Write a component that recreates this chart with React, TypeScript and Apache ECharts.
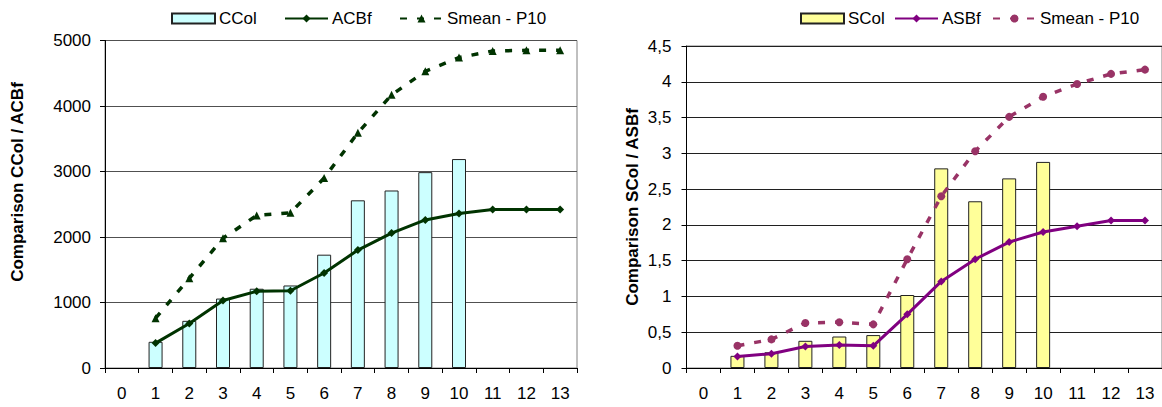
import React, { useEffect, useRef } from "react";
import * as echarts from "echarts";

const categories = ["0", "1", "2", "3", "4", "5", "6", "7", "8", "9", "10", "11", "12", "13"];

// Left chart
const ccol = [null, 400, 720, 1060, 1210, 1260, 1730, 2560, 2710, 2990, 3190, null, null, null];
const acbf = [null, 380, 680, 1030, 1170, 1180, 1450, 1800, 2060, 2260, 2360, 2420, 2420, 2420];
const smeanLeft = [null, 760, 1370, 1980, 2330, 2370, 2900, 3590, 4170, 4530, 4740, 4840, 4850, 4850];

// Right chart
const scol = [null, 0.17, 0.22, 0.38, 0.44, 0.46, 1.02, 2.79, 2.33, 2.65, 2.88, null, null, null];
const asbf = [null, 0.16, 0.2, 0.3, 0.32, 0.31, 0.75, 1.21, 1.52, 1.76, 1.9, 1.98, 2.06, 2.06];
const smeanRight = [null, 0.31, 0.4, 0.63, 0.64, 0.61, 1.52, 2.4, 3.03, 3.51, 3.79, 3.97, 4.11, 4.17];

const FONT = "'Liberation Sans', Arial, sans-serif";
const fix = (a: (number | null)[]) => a.map((v) => (v === null ? "-" : v));

export default function App() {
  const ref = useRef<HTMLDivElement>(null);
  useEffect(() => {
    if (!ref.current) return;
    const chart = echarts.init(ref.current, undefined, { renderer: "svg" });
    const axisLabel = { color: "#000", fontSize: 17, fontFamily: FONT };
    const legendBase = {
      top: 5,
      itemWidth: 43,
      itemHeight: 10,
      itemGap: 0,
      textStyle: { color: "#000", fontSize: 17, fontFamily: FONT, padding: [0, 0, 0, -1] },
      selectedMode: false as const,
    };
    const xAxisBase = (gi: number) => ({
      type: "category" as const,
      gridIndex: gi,
      data: categories,
      boundaryGap: true,
      axisLine: { lineStyle: { color: "#000", width: 1 } },
      axisTick: { show: true, length: 5, inside: false, lineStyle: { color: "#000" } },
      axisLabel: { ...axisLabel, margin: 17, interval: 0 },
      splitLine: { show: false },
    });
    chart.setOption({
      animation: false,
      backgroundColor: "#fff",
      grid: [
        { left: 105, top: 40.5, width: 472, height: 327.5, show: true, borderColor: "#808080", borderWidth: 1 },
        { left: 686.5, top: 46, width: 479, height: 322, show: true, borderColor: "#808080", borderWidth: 1 },
      ],
      legend: [
        { ...legendBase, left: 166, data: [{ name: "CCol", icon: "rect" }] },
        { ...legendBase, left: 279, data: ["ACBf"] },
        { ...legendBase, left: 394, data: ["Smean - P10 "] },
        { ...legendBase, left: 795, data: [{ name: "SCol", icon: "rect" }] },
        { ...legendBase, left: 889, data: ["ASBf"] },
        { ...legendBase, left: 987, data: ["Smean - P10"] },
      ],
      xAxis: [xAxisBase(0), xAxisBase(1)],
      yAxis: [
        {
          type: "value",
          gridIndex: 0,
          min: 0,
          max: 5000,
          interval: 1000,
          axisLine: { show: true, lineStyle: { color: "#000" } },
          axisTick: { show: true, length: 5, lineStyle: { color: "#000" } },
          axisLabel: { ...axisLabel, margin: 14, formatter: (v: number) => String(v) },
          splitLine: { show: true, lineStyle: { color: "#505050", width: 1 } },
        },
        {
          type: "value",
          gridIndex: 1,
          min: 0,
          max: 4.5,
          interval: 0.5,
          axisLine: { show: true, lineStyle: { color: "#000" } },
          axisTick: { show: true, length: 5, lineStyle: { color: "#000" } },
          axisLabel: {
            ...axisLabel,
            margin: 15,
            formatter: (v: number) => String(v).replace(".", ","),
          },
          splitLine: { show: true, lineStyle: { color: "#202020", width: 1 } },
        },
      ],
      graphic: [
        {
          type: "text",
          x: 17,
          y: 182,
          rotation: Math.PI / 2,
          style: {
            text: "Comparison CCol / ACBf",
            font: `bold 17px ${FONT}`,
            fill: "#000",
            align: "center",
            verticalAlign: "middle",
          },
        },
        {
          type: "text",
          x: 632,
          y: 207,
          rotation: Math.PI / 2,
          style: {
            text: "Comparison SCol / ASBf",
            font: `bold 17px ${FONT}`,
            fill: "#000",
            align: "center",
            verticalAlign: "middle",
          },
        },
      ],
      series: [
        {
          name: "CCol",
          type: "bar",
          xAxisIndex: 0,
          yAxisIndex: 0,
          barWidth: 14,
          data: fix(ccol),
          itemStyle: { color: "#CCFFFF", borderColor: "#222", borderWidth: 1 },
        },
        {
          name: "ACBf",
          type: "line",
          xAxisIndex: 0,
          yAxisIndex: 0,
          data: fix(acbf),
          symbol: "diamond",
          symbolSize: 8,
          lineStyle: { color: "#003300", width: 3 },
          itemStyle: { color: "#003300" },
        },
        {
          name: "Smean - P10 ",
          type: "line",
          xAxisIndex: 0,
          yAxisIndex: 0,
          data: fix(smeanLeft),
          symbol: "triangle",
          symbolSize: 8,
          lineStyle: { color: "#003300", width: 3.5, type: [7, 10] },
          itemStyle: { color: "#003300" },
        },
        {
          name: "SCol",
          type: "bar",
          xAxisIndex: 1,
          yAxisIndex: 1,
          barWidth: 14,
          data: fix(scol),
          itemStyle: { color: "#FFFF99", borderColor: "#222", borderWidth: 1 },
        },
        {
          name: "ASBf",
          type: "line",
          xAxisIndex: 1,
          yAxisIndex: 1,
          data: fix(asbf),
          symbol: "diamond",
          symbolSize: 8,
          lineStyle: { color: "#800080", width: 3 },
          itemStyle: { color: "#800080" },
        },
        {
          name: "Smean - P10",
          type: "line",
          xAxisIndex: 1,
          yAxisIndex: 1,
          data: fix(smeanRight),
          symbol: "circle",
          symbolSize: 8,
          lineStyle: { color: "#993366", width: 3.5, type: [7, 10] },
          itemStyle: { color: "#993366" },
        },
      ],
    });
    return () => chart.dispose();
  }, []);
  return (
    <div
      ref={ref}
      style={{ position: "fixed", left: 0, top: 0, width: 1162, height: 407, overflow: "hidden" }}
    />
  );
}
